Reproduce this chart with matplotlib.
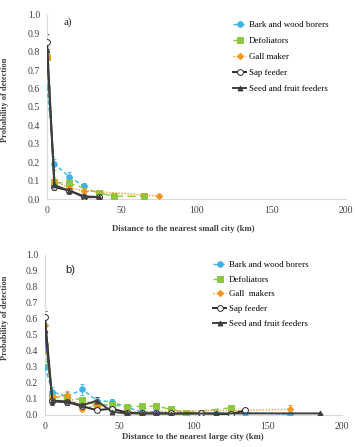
import matplotlib
matplotlib.use("Agg")
import matplotlib.pyplot as plt

# ---------------- data ----------------
series_names_a = ["Bark and wood borers", "Defoliators", "Gall maker", "Sap feeder", "Seed and fruit feeders"]
series_names_b = ["Bark and wood borers", "Defoliators", "Gall  makers", "Sap feeder", "Seed and fruit feeders"]

# panel a: nearest small city
a_bark_x = [0, 5, 15, 25]
a_bark_y = [0.61, 0.19, 0.12, 0.068]
a_bark_e = [0.05, 0.03, 0.025, 0.02]
a_defo_x = [0, 5, 15, 35, 45, 65]
a_defo_y = [0.77, 0.09, 0.085, 0.032, 0.016, 0.014]
a_defo_e = [0.04, 0.02, 0.02, 0.01, 0.005, 0.005]
a_gall_x = [0, 5, 15, 25, 75]
a_gall_y = [0.77, 0.10, 0.06, 0.045, 0.016]
a_gall_e = [0.04, 0.02, 0.015, 0.01, 0.012]
a_sap_x = [0, 5, 15, 25, 35]
a_sap_y = [0.855, 0.065, 0.045, 0.01, 0.01]
a_sap_e = [0.04, 0.015, 0.01, 0.005, 0.005]
a_seed_x = [0, 5, 15, 25, 35]
a_seed_y = [0.81, 0.075, 0.045, 0.015, 0.01]
a_seed_e = [0.04, 0.02, 0.01, 0.005, 0.005]

# panel b: nearest large city
b_bark_x = [0, 5, 15, 25, 35, 45, 55, 65, 75, 85, 95, 105, 115, 125, 135, 165]
b_bark_y = [0.30, 0.145, 0.115, 0.16, 0.09, 0.083, 0.048, 0.02, 0.02, 0.01, 0.01, 0.01, 0.01, 0.01, 0.015, 0.005]
b_bark_e = [0.04, 0.03, 0.03, 0.035, 0.025, 0.02, 0.015, 0.01, 0.01, 0.005, 0.005, 0.005, 0.005, 0.005, 0.005, 0.005]
b_defo_x = [0, 5, 15, 25, 35, 45, 55, 65, 75, 85, 95, 125]
b_defo_y = [0.43, 0.11, 0.11, 0.095, 0.06, 0.065, 0.05, 0.055, 0.055, 0.035, 0.015, 0.045]
b_defo_e = [0.04, 0.02, 0.02, 0.02, 0.015, 0.015, 0.01, 0.02, 0.02, 0.01, 0.005, 0.015]
b_gall_x = [0, 5, 15, 25, 35, 45, 55, 135, 165]
b_gall_y = [0.565, 0.11, 0.125, 0.038, 0.063, 0.04, 0.02, 0.03, 0.035]
b_gall_e = [0.04, 0.02, 0.025, 0.015, 0.015, 0.01, 0.01, 0.01, 0.025]
b_sap_x = [0, 5, 15, 25, 35, 45, 55, 65, 75, 85, 105, 125, 135]
b_sap_y = [0.61, 0.085, 0.08, 0.055, 0.03, 0.04, 0.015, 0.01, 0.01, 0.01, 0.01, 0.005, 0.03]
b_sap_e = [0.04, 0.02, 0.02, 0.015, 0.01, 0.01, 0.005, 0.005, 0.005, 0.005, 0.005, 0.005, 0.01]
b_seed_x = [0, 5, 15, 25, 35, 45, 55, 65, 75, 85, 115, 185]
b_seed_y = [0.53, 0.09, 0.085, 0.06, 0.09, 0.02, 0.01, 0.01, 0.01, 0.008, 0.01, 0.01]
b_seed_e = [0.04, 0.02, 0.025, 0.02, 0.025, 0.01, 0.005, 0.005, 0.005, 0.005, 0.005, 0.005]

yticks = [0.0, 0.1, 0.2, 0.3, 0.4, 0.5, 0.6, 0.7, 0.8, 0.9, 1.0]
xticks = [0, 50, 100, 150, 200]

# ---------------- styles ----------------
BLUE = "#3DB3E6"
GREEN = "#8DC63F"
ORANGE = "#F7941D"
DARK = "#3F3F3F"
SAP = "#2B2B2B"
styles = [
    dict(color=BLUE, ls=(0, (3, 2)), marker="o", mfc=BLUE, mec=BLUE, ms=4),
    dict(color=GREEN, ls=(0, (6, 3)), marker="s", mfc=GREEN, mec=GREEN, ms=4),
    dict(color=ORANGE, ls=(0, (1, 1.2)), marker="D", mfc=ORANGE, mec=ORANGE, ms=3.2),
    dict(color=SAP, ls="-", marker="o", mfc="white", mec=SAP, ms=4.2),
    dict(color=DARK, ls="-", marker="^", mfc=DARK, mec=DARK, ms=3.5),
]

plt.rcParams["font.family"] = ["Liberation Serif", "DejaVu Serif"]

fig = plt.figure(figsize=(3.55, 4.47), dpi=100)
axa = fig.add_axes([47 / 355, 1 - 199 / 447, 299 / 355, 184 / 447])
axb = fig.add_axes([45 / 355, 1 - 415 / 447, 297 / 355, 160 / 447])

data_a = [(a_bark_x, a_bark_y, a_bark_e), (a_defo_x, a_defo_y, a_defo_e),
          (a_gall_x, a_gall_y, a_gall_e), (a_sap_x, a_sap_y, a_sap_e),
          (a_seed_x, a_seed_y, a_seed_e)]
data_b = [(b_bark_x, b_bark_y, b_bark_e), (b_defo_x, b_defo_y, b_defo_e),
          (b_gall_x, b_gall_y, b_gall_e), (b_sap_x, b_sap_y, b_sap_e),
          (b_seed_x, b_seed_y, b_seed_e)]


def draw(ax, data, names, lw_main):
    handles = []
    for (x, y, e), st, name in zip(data, styles, names):
        lw = lw_main if st["ls"] == "-" else 1.0
        ax.errorbar(x, y, yerr=e, fmt="none", ecolor=st["color"], elinewidth=0.6,
                    capsize=1.5, capthick=0.6, zorder=2)
        h, = ax.plot(x, y, color=st["color"], ls=st["ls"], lw=lw, marker=st["marker"],
                     mfc=st["mfc"], mec=st["mec"], ms=st["ms"], mew=0.7, label=name, zorder=3)
        handles.append(h)
    ax.set_xlim(0, 200)
    ax.set_ylim(0, 1.0)
    ax.set_xticks(xticks)
    ax.set_yticks(yticks)
    ax.set_yticklabels([f"{v:.1f}" for v in yticks])
    ax.tick_params(length=0, labelsize=7, colors="#404040", pad=5)
    for s in ["top", "right"]:
        ax.spines[s].set_visible(False)
    ax.spines["left"].set_color("#D9D9D9")
    ax.spines["bottom"].set_color("#D9D9D9")
    ax.spines["left"].set_linewidth(0.8)
    ax.spines["bottom"].set_linewidth(0.8)
    ax.set_facecolor("none")
    return handles


ha = draw(axa, data_a, series_names_a, 1.4)
hb = draw(axb, data_b, series_names_b, 1.4)

axa.legend(handles=ha, loc="upper left", bbox_to_anchor=((233 - 47) / 299, (199 - 21) / 184),
           frameon=False, fontsize=6.4, handlelength=1.5, handletextpad=0.3, labelspacing=0.88,
           borderpad=0, borderaxespad=0)
axb.legend(handles=hb, loc="upper left", bbox_to_anchor=((213 - 45) / 297, (415 - 261) / 160),
           frameon=False, fontsize=6.4, handlelength=1.5, handletextpad=0.3, labelspacing=0.72,
           borderpad=0, borderaxespad=0)

axa.text(0.055, 0.985, "a)", transform=axa.transAxes, fontsize=8, ha="left", va="top", color="#222222")
axb.text(0.068, 0.94, "b)", transform=axb.transAxes, fontsize=8, ha="left", va="top",
         family=["Liberation Sans", "DejaVu Sans"], color="#222222")

fig.text(183 / 355, 1 - 229 / 447, "Distance to the nearest small city (km)", ha="center", va="center",
         fontsize=6.3, fontweight="bold", color="#404040")
fig.text(193 / 355, 1 - 437 / 447, "Distance to the nearest large city (km)", ha="center", va="center",
         fontsize=6.3, fontweight="bold", color="#404040")

fig.text(5 / 355, 1 - 100 / 447, "Probability of detection", rotation=90, ha="center", va="center",
         fontsize=6.0, fontweight="bold", color="#404040")
fig.text(5 / 355, 1 - 318 / 447, "Probability of detection", rotation=90, ha="center", va="center",
         fontsize=6.0, fontweight="bold", color="#404040")

fig.savefig("out.png", dpi=100, facecolor="white")
